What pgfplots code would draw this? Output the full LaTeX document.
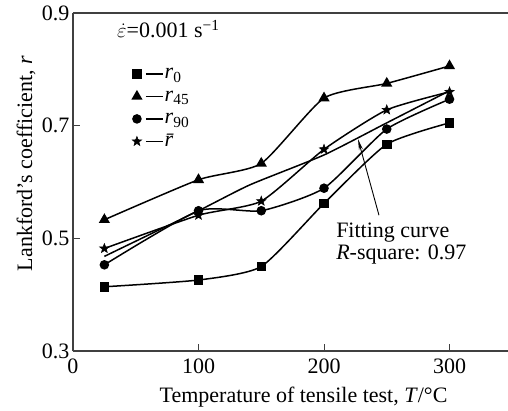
\documentclass[border=0pt]{standalone}
\usepackage{fontspec}
\setmainfont{Liberation Serif}
\usepackage{pgfplots}
\pgfplotsset{compat=1.18}
\usetikzlibrary{arrows.meta}

\pgfdeclareplotmark{fstar}{%
  \pgfpathmoveto{\pgfqpointpolar{90}{\pgfplotmarksize}}%
  \pgfpathlineto{\pgfqpointpolar{126}{0.42\pgfplotmarksize}}%
  \pgfpathlineto{\pgfqpointpolar{162}{\pgfplotmarksize}}%
  \pgfpathlineto{\pgfqpointpolar{198}{0.42\pgfplotmarksize}}%
  \pgfpathlineto{\pgfqpointpolar{234}{\pgfplotmarksize}}%
  \pgfpathlineto{\pgfqpointpolar{270}{0.42\pgfplotmarksize}}%
  \pgfpathlineto{\pgfqpointpolar{306}{\pgfplotmarksize}}%
  \pgfpathlineto{\pgfqpointpolar{342}{0.42\pgfplotmarksize}}%
  \pgfpathlineto{\pgfqpointpolar{18}{\pgfplotmarksize}}%
  \pgfpathlineto{\pgfqpointpolar{54}{0.42\pgfplotmarksize}}%
  \pgfpathclose
  \pgfusepathqfillstroke
}

\newcommand{\bigf}{\rmfamily\fontsize{22}{22}\selectfont}

\begin{document}
\begin{tikzpicture}
\begin{axis}[
  at={(0,0)}, anchor=south west,
  scale only axis, width=435pt, height=338pt,
  xmin=0, xmax=346.6, ymin=0.3, ymax=0.9,
  axis x line=box, axis y line*=left,
  y axis line style={-}, x axis line style={-},
  axis line style={line width=1.1pt, black!75},
  xtick={0,100,200,300}, ytick={0.3,0.5,0.7,0.9},
  xtick pos=bottom, ytick pos=left,
  tick align=inside, major tick length=7pt,
  tick style={line width=1pt, black!75},
  yticklabel style={/pgf/number format/fixed, /pgf/number format/fixed zerofill, /pgf/number format/precision=1},
  /pgf/number format/assume math mode=true,
  ticklabel style={font=\bigf},
  xticklabel style={yshift=-4pt},
  xlabel={Temperature of tensile test, \textit{T}/°C},
  ylabel={Lankford’s coefficient, \textit{r}},
  label style={font=\bigf},
  xlabel style={at={(axis description cs:0.53,0)}, anchor=north, yshift=-32pt},
  ylabel style={at={(axis description cs:0,0.555)}, anchor=south, yshift=34pt},
  every axis plot/.append style={line width=1.5pt, black, smooth, tension=0.35, mark options={solid}},
  legend image code/.code={
    \draw[#1, mark=none] (9pt,0pt) -- (26pt,0pt);
    \draw[#1] plot coordinates {(0pt,0pt)};
  },
  legend style={at={(axis description cs:0.1356,0.847)}, anchor=north west,
    draw=none, fill=none, inner sep=0pt, row sep=4.5pt,
    font=\bigf,
    nodes={inner sep=1pt, text height=13pt, text depth=3pt, font=\bigf}},
  legend cell align=left,
  clip=false,
]
\addplot[mark=square*, mark size=4pt] coordinates {(25,0.414) (100,0.426) (150,0.450) (200,0.562) (250,0.667) (300,0.705)};
\addlegendentry{\textit{r}\textsubscript{0}}
\addplot[mark=triangle*, mark size=5pt] coordinates {(25,0.533) (100,0.604) (150,0.633) (200,0.749) (250,0.775) (300,0.806)};
\addlegendentry{\textit{r}\textsubscript{45}}
\addplot[mark=*, mark size=4pt] coordinates {(25,0.453) (100,0.549) (150,0.549) (200,0.589) (250,0.694) (300,0.747)};
\addlegendentry{\textit{r}\textsubscript{90}}
\addplot[mark=fstar, mark size=5pt, mark options={line width=0.5pt}] coordinates {(25,0.482) (100,0.541) (150,0.566) (200,0.658) (250,0.728) (300,0.760)};
\addlegendentry{\textit{\=r}}
\addplot[mark=none, forget plot] coordinates {(25,0.468) (100,0.549) (141,0.595) (200,0.648) (250,0.705) (300,0.762)};
\draw[line width=0.9pt, -{Stealth[length=11pt,width=4pt]}] (axis cs:243.8,0.541) -- (axis cs:227.1,0.676);
\node[anchor=north west, align=left, inner sep=0pt, font=\bigf] at (axis cs:209.6,0.527) {Fitting curve\\\textit{R}-square: 0.97};
\node[anchor=base west, inner sep=0pt, font=\bigf] at (axis cs:35,0.856) {$\dot{\varepsilon}$=0.001 s\textsuperscript{−1}};
\end{axis}
\pgfresetboundingbox
\useasboundingbox (-73pt,-59pt) rectangle (435pt,351pt);
\end{tikzpicture}
\end{document}
